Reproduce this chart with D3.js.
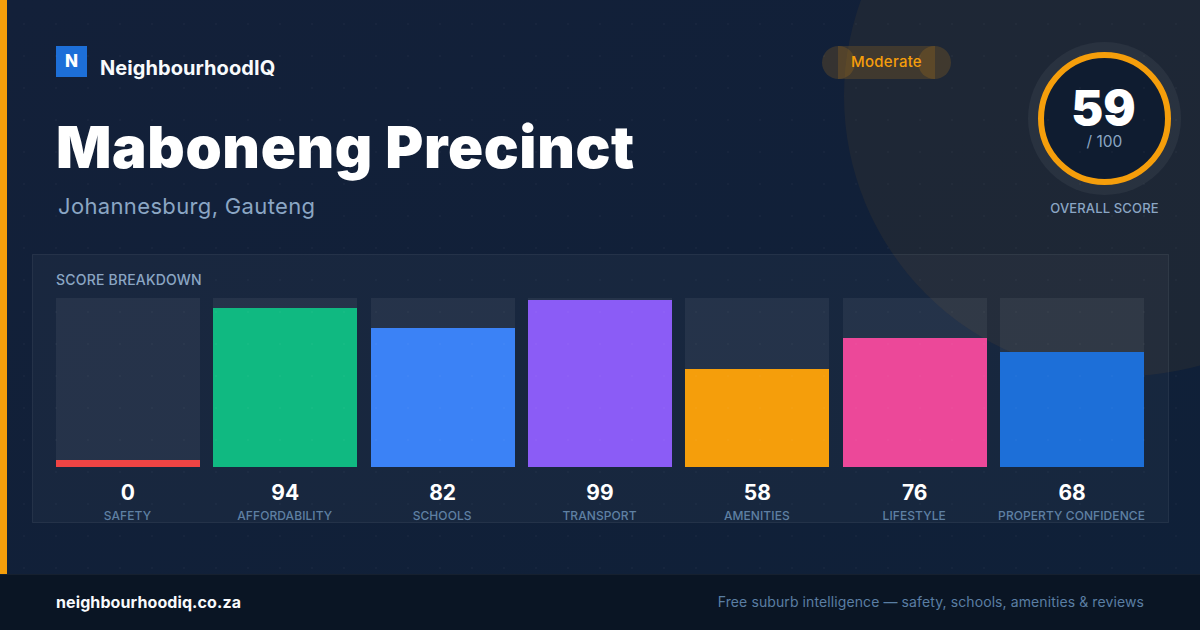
<!DOCTYPE html>
<html>
<head>
<meta charset="utf-8">
<script src="https://cdn.jsdelivr.net/npm/d3@7"></script>
<style>
  html, body { margin: 0; padding: 0; background: #0f1f38; }
  svg { display: block; }
  text { font-family: Inter, sans-serif; }
</style>
</head>
<body>
<div id="chart"></div>
<script>
var categories = ["SAFETY", "AFFORDABILITY", "SCHOOLS", "TRANSPORT", "AMENITIES", "LIFESTYLE", "PROPERTY CONFIDENCE"];
var scores = [0, 94, 82, 99, 58, 76, 68];
var barColors = ["#ef4444", "#10b981", "#3b82f6", "#8b5cf6", "#f59e0b", "#ec4899", "#1d6fd8"];
var overallScore = 59;

var width = 1200, height = 630;
var svg = d3.select("#chart").append("svg").attr("width", width).attr("height", height);

var defs = svg.append("defs");
var bg = defs.append("linearGradient").attr("id", "bg").attr("x1", 0).attr("y1", 0).attr("x2", 1).attr("y2", 1);
bg.append("stop").attr("offset", "0%").attr("stop-color", "#132039");
bg.append("stop").attr("offset", "100%").attr("stop-color", "#0f2038");
var dots = defs.append("pattern").attr("id", "dots").attr("width", 32).attr("height", 32)
  .attr("patternUnits", "userSpaceOnUse");
dots.append("circle").attr("cx", 24).attr("cy", 24).attr("r", 1).attr("fill", "rgba(255,255,255,0.03)");

svg.append("rect").attr("width", width).attr("height", height).attr("fill", "url(#bg)");
svg.append("circle").attr("cx", 1124).attr("cy", 96).attr("r", 280).attr("fill", "rgba(245,158,11,0.06)");

// left accent
svg.append("rect").attr("width", 7).attr("height", 574).attr("fill", "#f59e0b");

// header
svg.append("rect").attr("x", 56).attr("y", 46).attr("width", 31).attr("height", 31).attr("fill", "#1d6fd8");
svg.append("text").attr("x", 71.5).attr("y", 67).attr("text-anchor", "middle")
  .attr("font-size", 17).attr("font-weight", 800).attr("fill", "#fff").text("N");
svg.append("text").attr("x", 100).attr("y", 75).attr("font-size", 20).attr("font-weight", 700)
  .attr("fill", "#f8fafc").attr("letter-spacing", 0.07).text("NeighbourhoodIQ");
svg.append("text").attr("x", 56).attr("y", 168).attr("font-size", 58).attr("font-weight", 900)
  .attr("fill", "#fff").attr("letter-spacing", 0.65).text("Maboneng Precinct");
svg.append("text").attr("x", 58).attr("y", 214).attr("font-size", 22)
  .attr("fill", "#8ba6c4").attr("letter-spacing", 0.35).text("Johannesburg, Gauteng");

// status pill, the end caps overlap the middle
var pill = svg.append("g").attr("fill", "rgba(245,158,11,0.16)");
pill.append("rect").attr("x", 838).attr("y", 46).attr("width", 97).attr("height", 33);
pill.append("circle").attr("cx", 838.5).attr("cy", 62.5).attr("r", 16.5);
pill.append("circle").attr("cx", 934.5).attr("cy", 62.5).attr("r", 16.5);
svg.append("text").attr("x", 886.5).attr("y", 67).attr("text-anchor", "middle")
  .attr("font-size", 15).attr("font-weight", 500).attr("fill", "#f59e0b").attr("letter-spacing", 0.25).text("Moderate");

// score ring
var ringX = 1104.5, ringY = 118.5;
svg.append("circle").attr("cx", ringX).attr("cy", ringY).attr("r", 76.5).attr("fill", "rgba(255,255,255,0.05)");
svg.append("circle").attr("cx", ringX).attr("cy", ringY).attr("r", 63.5).attr("fill", "#0f1c30")
  .attr("stroke", "#f59e0b").attr("stroke-width", 6);
svg.append("text").attr("x", 1103.5).attr("y", 125).attr("text-anchor", "middle")
  .attr("font-size", 48).attr("font-weight", 900).attr("fill", "#fff").text(overallScore);
svg.append("text").attr("x", ringX).attr("y", 147).attr("text-anchor", "middle")
  .attr("font-size", 15.5).attr("fill", "#8ba6c4").text("/ 100");
svg.append("text").attr("x", ringX).attr("y", 212.5).attr("text-anchor", "middle")
  .attr("font-size", 13).attr("font-weight", 500).attr("fill", "#8ba6c4").attr("letter-spacing", 0.15).text("OVERALL SCORE");

// breakdown panel
svg.append("rect").attr("x", 32.5).attr("y", 254.5).attr("width", 1136).attr("height", 268)
  .attr("fill", "rgba(255,255,255,0.03)").attr("stroke", "rgba(255,255,255,0.07)");
svg.append("text").attr("x", 56).attr("y", 285).attr("font-size", 14).attr("font-weight", 500)
  .attr("fill", "#8ba6c4").attr("letter-spacing", 0.2).text("SCORE BREAKDOWN");

var x = d3.scaleBand().domain(categories).range([56, 1144]).paddingInner(13.5 / 157.2);
var y = d3.scaleLinear().domain([0, 100]).range([467, 297.85]);
var minBar = 7;
var px = function(v) { return Math.round(v); };

svg.append("g").selectAll("rect").data(categories).enter().append("rect")
  .attr("x", function(d) { return px(x(d)); })
  .attr("y", px(y(100)))
  .attr("width", px(x.bandwidth()))
  .attr("height", y(0) - px(y(100)))
  .attr("fill", "rgba(255,255,255,0.06)");

svg.append("g").selectAll("rect").data(scores).enter().append("rect")
  .attr("x", function(d, i) { return px(x(categories[i])); })
  .attr("y", function(d) { return px(Math.min(y(d), y(0) - minBar)); })
  .attr("width", px(x.bandwidth()))
  .attr("height", function(d) { return y(0) - px(Math.min(y(d), y(0) - minBar)); })
  .attr("fill", function(d, i) { return barColors[i]; });

svg.append("g").selectAll("text").data(scores).enter().append("text")
  .attr("x", function(d, i) { return x(categories[i]) + x.bandwidth() / 2; })
  .attr("y", 499.5)
  .attr("text-anchor", "middle")
  .attr("font-size", 21).attr("font-weight", 700).attr("fill", "#fff")
  .text(function(d) { return d; });

svg.append("g").selectAll("text").data(categories).enter().append("text")
  .attr("x", function(d) { return x(d) + x.bandwidth() / 2 - 0.5; })
  .attr("y", 520)
  .attr("text-anchor", "middle")
  .attr("font-size", 12).attr("font-weight", 500).attr("fill", "#5f80a3").attr("letter-spacing", 0.08)
  .text(function(d) { return d; });

// dots over everything above the footer
svg.append("rect").attr("width", width).attr("height", 574).attr("fill", "url(#dots)");

// footer
svg.append("rect").attr("y", 574).attr("width", width).attr("height", 56).attr("fill", "#0a1524");
svg.append("line").attr("x1", 0).attr("x2", width).attr("y1", 574.5).attr("y2", 574.5)
  .attr("stroke", "rgba(255,255,255,0.05)");
svg.append("text").attr("x", 56).attr("y", 608).attr("font-size", 16).attr("font-weight", 700)
  .attr("fill", "#f8fafc").attr("letter-spacing", 0.1).text("neighbourhoodiq.co.za");
svg.append("text").attr("x", 1144).attr("y", 607).attr("text-anchor", "end").attr("font-size", 14)
  .attr("fill", "#5a7ea3").attr("letter-spacing", 0.1).text("Free suburb intelligence — safety, schools, amenities & reviews");
</script>
</body>
</html>
